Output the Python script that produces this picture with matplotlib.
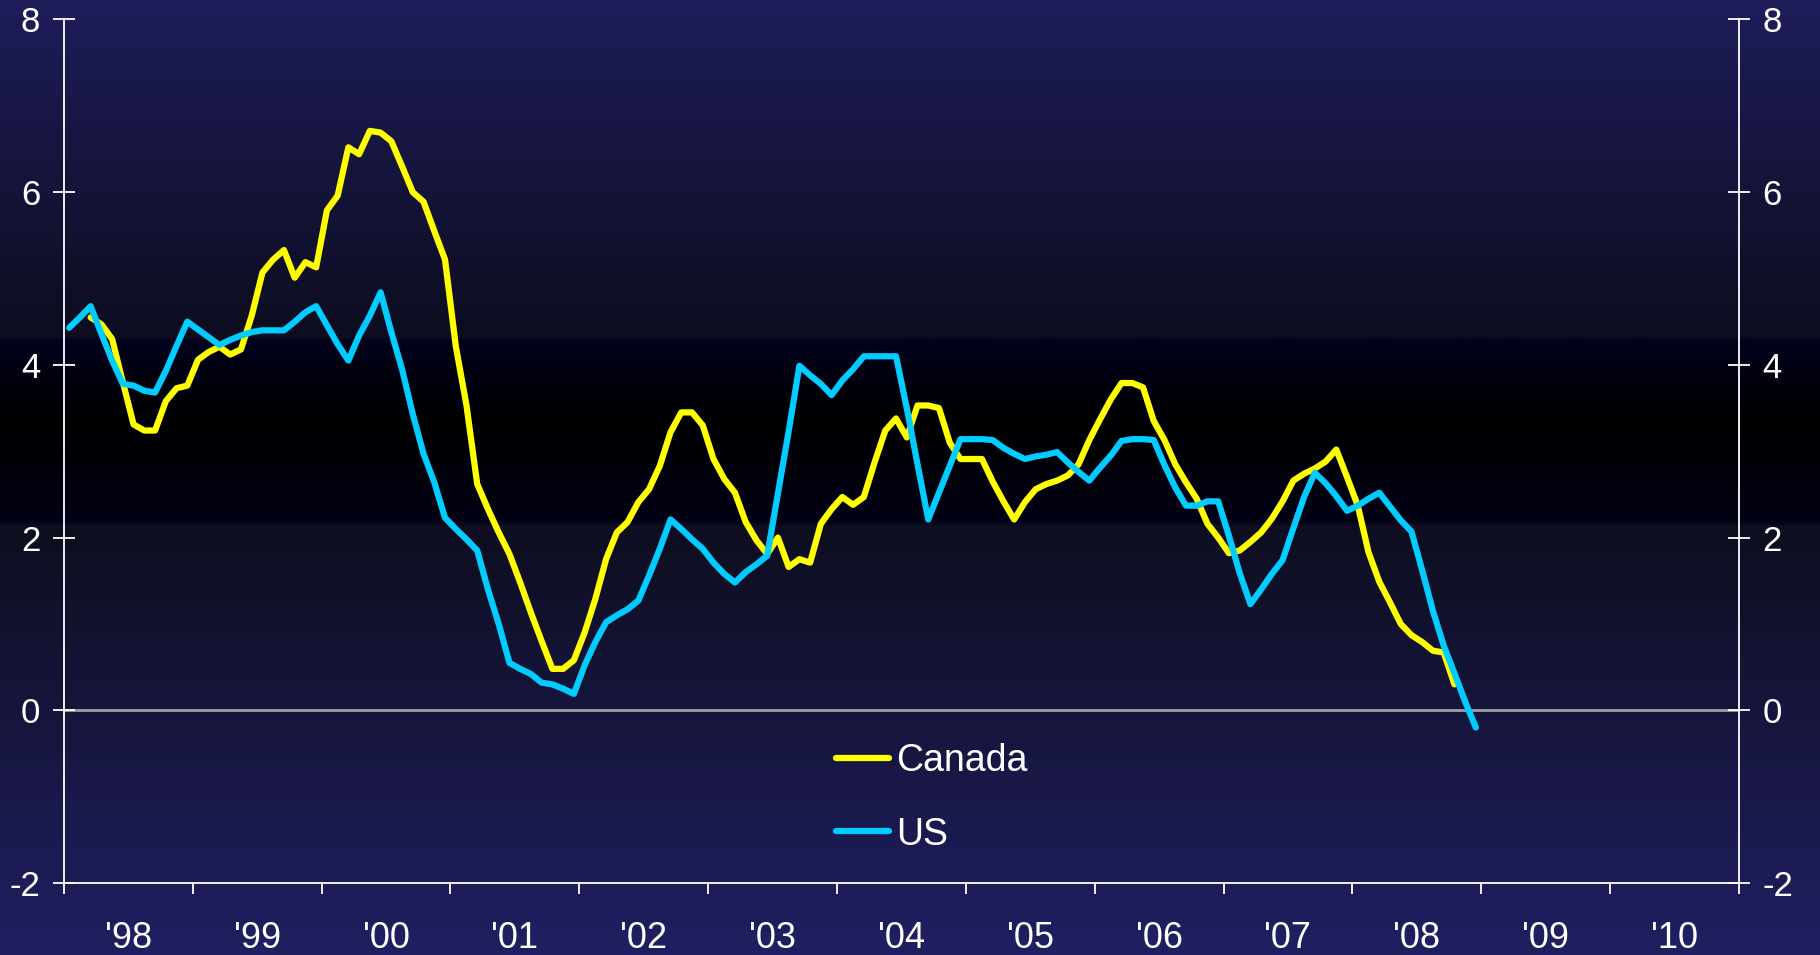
import matplotlib
matplotlib.use('Agg')
import matplotlib.pyplot as plt
import numpy as np

# monthly values, Jan 1998 onwards (US) and Mar 1998 onwards (Canada)
us_start = 0
us = [4.43, 4.55, 4.68, 4.36, 4.05, 3.78, 3.76, 3.70, 3.68, 3.93, 4.22, 4.50,
      4.41, 4.32, 4.23, 4.29, 4.34, 4.38, 4.40, 4.40, 4.40, 4.50, 4.61, 4.68,
      4.46, 4.24, 4.05, 4.34, 4.57, 4.84, 4.38, 3.95, 3.43, 2.97, 2.64, 2.23,
      2.10, 1.98, 1.85, 1.40, 1.00, 0.55, 0.48, 0.42, 0.32, 0.30, 0.25, 0.19,
      0.52, 0.79, 1.02, 1.10, 1.17, 1.27, 1.56, 1.87, 2.21, 2.10, 1.98, 1.87,
      1.71, 1.58, 1.48, 1.60, 1.69, 1.79, 2.51, 3.23, 3.99, 3.88, 3.78, 3.65,
      3.82, 3.95, 4.10, 4.10, 4.10, 4.10, 3.50, 2.85, 2.21, 2.52, 2.83, 3.14,
      3.14, 3.14, 3.13, 3.04, 2.97, 2.91, 2.94, 2.96, 2.99, 2.87, 2.76, 2.66,
      2.81, 2.95, 3.12, 3.14, 3.14, 3.13, 2.84, 2.58, 2.37, 2.37, 2.42, 2.42,
      2.02, 1.59, 1.23, 1.40, 1.58, 1.74, 2.11, 2.47, 2.75, 2.63, 2.48, 2.31,
      2.37, 2.45, 2.52, 2.36, 2.20, 2.07, 1.62, 1.15, 0.75, 0.43, 0.10, -0.20]

canada_start = 2
canada = [4.55, 4.47, 4.30, 3.80, 3.31, 3.24, 3.24, 3.58, 3.73, 3.76,
          4.06, 4.15, 4.21, 4.12, 4.18, 4.57, 5.07, 5.22, 5.33, 5.01, 5.19, 5.13,
          5.79, 5.96, 6.52, 6.44, 6.71, 6.69, 6.59, 6.30, 6.00, 5.89, 5.55, 5.22,
          4.22, 3.53, 2.62, 2.33, 2.06, 1.81, 1.48, 1.13, 0.80, 0.48, 0.48, 0.58,
          0.90, 1.29, 1.75, 2.06, 2.18, 2.41, 2.56, 2.83, 3.22, 3.45, 3.45, 3.30,
          2.91, 2.68, 2.52, 2.18, 1.97, 1.81, 2.00, 1.66, 1.75, 1.71, 2.16, 2.33,
          2.47, 2.38, 2.47, 2.87, 3.24, 3.38, 3.16, 3.53, 3.53, 3.50, 3.10, 2.91,
          2.91, 2.91, 2.65, 2.42, 2.21, 2.41, 2.56, 2.62, 2.66, 2.72, 2.85, 3.13,
          3.37, 3.60, 3.79, 3.79, 3.74, 3.35, 3.13, 2.85, 2.64, 2.45, 2.16, 2.00,
          1.82, 1.85, 1.95, 2.06, 2.22, 2.42, 2.66, 2.74, 2.80, 2.88, 3.02, 2.70,
          2.37, 1.83, 1.49, 1.25, 1.00, 0.87, 0.79, 0.69, 0.67, 0.30]

year_labels = ["'98", "'99", "'00", "'01", "'02", "'03", "'04", "'05", "'06",
               "'07", "'08", "'09", "'10"]
y_ticks = [-2, 0, 2, 4, 6, 8]

plt.rcParams['font.family'] = ['Liberation Sans', 'DejaVu Sans']

W, H = 1820, 955
fig = plt.figure(figsize=(W / 100, H / 100), dpi=100)

# background gradient (pixel rows from the top)
bg = fig.add_axes([0, 0, 1, 1], zorder=0)
stop_y = [0, 330, 337, 341, 420, 521, 526, 955]
stop_c = np.array([(30, 29, 90), (13, 13, 33), (13, 13, 30), (2, 2, 28),
                   (0, 0, 0), (2, 2, 22), (14, 14, 32), (32, 31, 98)]) / 255
rows = np.arange(H)
grad = np.stack([np.interp(rows, stop_y, stop_c[:, i]) for i in range(3)], axis=1)
bg.imshow(grad[:, None, :], aspect='auto', extent=[0, 1, 0, 1])
bg.axis('off')

left, right, top, bottom = 63.8, 1739, 19.5, 883
ax = fig.add_axes([left / W, 1 - bottom / H, (right - left) / W, (bottom - top) / H], zorder=1)
ax.patch.set_alpha(0)

x_us = np.arange(len(us)) + us_start
x_ca = np.arange(len(canada)) + canada_start
ax.axhline(0, color='#a0a0a0', lw=2.0, zorder=1)
ax.plot(x_ca, canada, color='#ffff00', lw=4.5, label='Canada',
        solid_capstyle='round', solid_joinstyle='round', zorder=2)
ax.plot(x_us, us, color='#00ccff', lw=4.5, label='US',
        solid_capstyle='round', solid_joinstyle='round', zorder=3)

ax.set_xlim(-0.5, 155.5)
ax.set_ylim(-2, 8)

ax.set_xticks(np.arange(-0.5, 156, 12))
ax.set_xticklabels([])
ax.set_xticks(np.arange(5.5, 156, 12), minor=True)
ax.set_xticklabels(year_labels, minor=True, fontsize=26, color='white')
ax.tick_params(axis='x', which='major', direction='out', length=7.7, width=1.3, color='white')
ax.tick_params(axis='x', which='minor', length=0, pad=27)

ax.set_yticks(y_ticks)
ax.set_yticklabels([str(v) for v in y_ticks])
ax.yaxis.set_ticks_position('both')
ax.tick_params(axis='y', direction='inout', length=15.8, width=1.3, color='white',
               labelsize=25, labelcolor='white', labelright=True, pad=9)

for s in ['left', 'right', 'bottom']:
    ax.spines[s].set_color('white')
    ax.spines[s].set_linewidth(1.3)
ax.spines['top'].set_visible(False)

leg = ax.legend(loc='upper left', bbox_to_anchor=(836 / W, 1 - 743 / H),
                bbox_transform=fig.transFigure, frameon=False, fontsize=27,
                handlelength=1.4, handletextpad=0.2, labelspacing=1.0,
                borderpad=0, borderaxespad=0)
for t in leg.get_texts():
    t.set_color('white')

fig.savefig('out.png', dpi=100)
